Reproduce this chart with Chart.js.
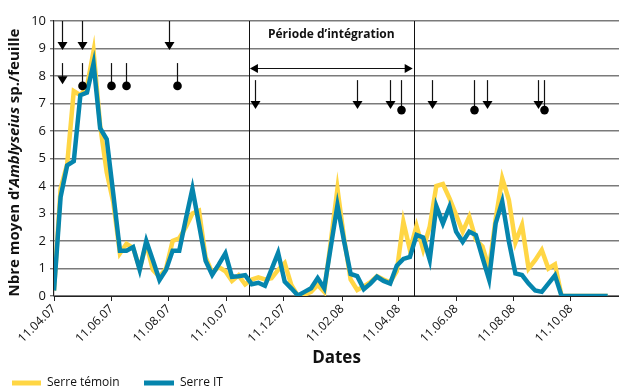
<!DOCTYPE html>
<html>
<head>
<meta charset="utf-8">
<script src="https://cdn.jsdelivr.net/npm/chart.js@4"></script>
<style>
  html, body { margin: 0; padding: 0; background: #fff; }
  #wrap { width: 619px; height: 392px; }
</style>
</head>
<body>
<div id="wrap"><canvas id="chart" width="619" height="392"></canvas></div>
<script>
// ── données (jours depuis le 11.04.07, relevés hebdomadaires) ─────────
const sampleDays = [
  0, 7, 14, 21, 28, 35, 42, 49, 56, 63, 70, 77, 84, 91, 98, 105, 112, 119, 126, 133,
  140, 147, 154, 161, 168, 175, 182, 189, 196, 203, 210, 217, 224, 231, 238, 245, 252, 259, 266, 273,
  280, 287, 294, 301, 308, 315, 322, 329, 336, 343, 350, 357, 364, 371, 378, 385, 392, 399, 406, 413,
  420, 427, 434, 441, 448, 455, 462, 469, 476, 483, 490, 497, 504, 511, 518, 525, 532, 539, 546, 553,
  560, 567, 574, 581, 588,
];
const serreTemoin = [
  0.2, 3.9, 4.8, 7.45, 7.3, 7.6, 8.9, 6.2, 4.5, 3.4, 1.55, 1.9, 1.75, 1.0, 1.9, 0.95, 0.7, 1.0, 2.0, 2.1,
  2.5, 3.0, 3.1, 1.4, 0.85, 1.05, 0.9, 0.55, 0.75, 0.42, 0.6, 0.68, 0.6, 0.65, 0.95, 1.2, 0.4, 0, 0.05, 0.15,
  0.4, 0.15, 2.0, 3.9, 2.1, 0.6, 0.22, 0.35, 0.5, 0.72, 0.6, 0.5, 0.9, 2.7, 1.67, 2.55, 1.7, 2.52, 4.0, 4.07,
  3.55, 2.95, 2.34, 2.88, 2.04, 1.8, 1.0, 2.8, 4.28, 3.5, 1.95, 2.58, 1.0, 1.3, 1.67, 1.0, 1.15, 0, 0, 0,
  0, 0, 0, 0, 0,
];
const serreIT = [
  0.2, 3.6, 4.75, 4.9, 7.3, 7.4, 8.45, 6.1, 5.7, 3.7, 1.65, 1.65, 1.78, 0.95, 2.0, 1.3, 0.58, 0.95, 1.65, 1.65,
  2.8, 3.9, 2.6, 1.28, 0.77, 1.15, 1.55, 0.7, 0.72, 0.76, 0.43, 0.48, 0.37, 0.97, 1.57, 0.52, 0.28, 0.02, 0.15, 0.28,
  0.65, 0.28, 1.8, 3.3, 2.0, 0.8, 0.72, 0.25, 0.45, 0.7, 0.55, 0.45, 1.1, 1.35, 1.42, 2.22, 2.13, 1.31, 3.27, 2.64,
  3.25, 2.34, 1.97, 2.34, 2.22, 1.4, 0.6, 2.64, 3.43, 2.0, 0.82, 0.76, 0.45, 0.2, 0.15, 0.45, 0.75, 0, 0, 0,
  0, 0, 0, 0, 0,
];
const tickDays = [0, 61, 122, 183, 244, 306, 366, 427, 488, 549];
const tickLabels = ["11.04.07", "11.06.07", "11.08.07", "11.10.07", "11.12.07", "11.02.08", "11.04.08", "11.06.08", "11.08.08", "11.10.08"];

// période d'intégration + traitements (jours)
const periodBounds = [207, 382];
const lachersHaut = [9, 30, 122];          // flèches, 1re rangée
const lachersBas = [9];                    // flèches, 2e rangée
const traitementsBas = [30, 61, 76, 131];  // points, 2e rangée
const lachersIT = [213, 322, 357, 401, 460, 514];
const traitementsIT = [368, 446, 520];

const YELLOW = "#ffd644", BLUE = "#0585ad";
const FONT = "'Open Sans', 'DejaVu Sans', sans-serif";

// ── dessins additionnels ──────────────────────────────────────────────
const overlay = {
  id: "overlay",
  beforeDatasetsDraw(chart) {
    const c = chart.ctx, x = chart.scales.x, y = chart.scales.y;
    c.save();
    c.strokeStyle = "#111"; c.lineWidth = 1;
    periodBounds.forEach((d) => {
      const X = Math.round(x.getPixelForValue(d)) + 0.5;
      c.beginPath(); c.moveTo(X, y.getPixelForValue(10)); c.lineTo(X, y.getPixelForValue(0)); c.stroke();
    });
    c.restore();
  },
  afterDatasetsDraw(chart) {
    const c = chart.ctx, x = chart.scales.x, y = chart.scales.y;
    const px = (d) => x.getPixelForValue(d), py = (v) => y.getPixelForValue(v);
    c.save();
    c.strokeStyle = "#111"; c.fillStyle = "#000"; c.lineWidth = 1.2;

    const arrow = (d, top, tip) => {
      const X = Math.round(px(d)) + 0.5, T = py(tip);
      c.beginPath(); c.moveTo(X, py(top)); c.lineTo(X, T - 7); c.stroke();
      c.beginPath(); c.moveTo(X - 5, T - 8); c.lineTo(X + 5, T - 8); c.lineTo(X, T); c.closePath(); c.fill();
    };
    const dot = (d, top, mid) => {
      const X = Math.round(px(d)) + 0.5, M = py(mid);
      c.beginPath(); c.moveTo(X, py(top)); c.lineTo(X, M); c.stroke();
      c.beginPath(); c.arc(X, M, 4.3, 0, Math.PI * 2); c.fill();
    };
    lachersHaut.forEach((d) => arrow(d, 10, 8.95));
    lachersBas.forEach((d) => arrow(d, 8.47, 7.7));
    traitementsBas.forEach((d) => dot(d, 8.47, 7.64));
    lachersIT.forEach((d) => arrow(d, 7.85, 6.8));
    traitementsIT.forEach((d) => dot(d, 7.85, 6.76));

    // flèche double de la période
    const a = px(periodBounds[0]), b = px(periodBounds[1]), Y = Math.round(py(8.3)) + 0.5;
    c.beginPath(); c.moveTo(a + 6, Y); c.lineTo(b - 6, Y); c.stroke();
    c.beginPath(); c.moveTo(a + 1, Y); c.lineTo(a + 9, Y - 4.5); c.lineTo(a + 9, Y + 4.5); c.closePath(); c.fill();
    c.beginPath(); c.moveTo(b - 1, Y); c.lineTo(b - 9, Y - 4.5); c.lineTo(b - 9, Y + 4.5); c.closePath(); c.fill();

    c.font = "bold 12px " + FONT; c.textAlign = "center"; c.textBaseline = "middle"; c.fillStyle = "#111";
    c.fillText("Période d’intégration", (a + b) / 2, py(9.5));
    c.restore();
  },
  afterDraw(chart) {
    const c = chart.ctx, area = chart.chartArea;
    c.save();
    // titre de l'axe Y (Amblyseius en italique)
    c.translate(15, (area.top + area.bottom) / 2 + 4);
    c.rotate(-Math.PI / 2);
    const parts = [["bold", "Nbre moyen d’"], ["italic bold", "Amblyseius"], ["bold", " sp./feuille"]];
    let w = 0;
    parts.forEach(([s, t]) => { c.font = s + " 15px " + FONT; w += c.measureText(t).width; });
    let cx = -w / 2;
    c.fillStyle = "#111"; c.textBaseline = "middle"; c.textAlign = "left";
    parts.forEach(([s, t]) => { c.font = s + " 15px " + FONT; c.fillText(t, cx, 0); cx += c.measureText(t).width; });
    c.restore();

    c.save();
    c.fillStyle = "#111"; c.textBaseline = "middle";
    c.font = "bold 17px " + FONT; c.textAlign = "center";
    c.fillText("Dates", (area.left + area.right) / 2, 358);
    // légende
    c.lineWidth = 5;
    [[YELLOW, "Serre témoin", 12, 41, 47], [BLUE, "Serre IT", 144, 174, 180]].forEach(([col, t, x0, x1, tx]) => {
      c.strokeStyle = col; c.beginPath(); c.moveTo(x0, 383); c.lineTo(x1, 383); c.stroke();
      c.font = "12px " + FONT; c.textAlign = "left"; c.fillText(t, tx, 383);
    });
    c.restore();
  },
};

const pts = (vals) => vals.map((v, i) => ({ x: sampleDays[i], y: v }));

new Chart(document.getElementById("chart"), {
  type: "line",
  data: {
    datasets: [
      { label: "Serre témoin", data: pts(serreTemoin), borderColor: YELLOW, borderWidth: 4.5, pointRadius: 0, tension: 0, order: 2 },
      { label: "Serre IT", data: pts(serreIT), borderColor: BLUE, borderWidth: 4.5, pointRadius: 0, tension: 0, order: 1 },
    ],
  },
  options: {
    responsive: false, animation: false, devicePixelRatio: 1,
    layout: { padding: { top: 21, right: 0, left: 0, bottom: 0 } },
    plugins: { legend: { display: false }, tooltip: { enabled: false } },
    scales: {
      x: {
        type: "linear", min: 0, max: 600,
        afterBuildTicks: (s) => { s.ticks = tickDays.map((v) => ({ value: v })); },
        afterFit: (s) => { s.height = 96; },
        grid: { drawOnChartArea: false, tickLength: 5, color: "#222" },
        border: { color: "#222", width: 1 },
        ticks: {
          autoSkip: false, minRotation: 45, maxRotation: 45, padding: 1,
          color: "#111", font: { family: FONT, size: 12 },
          callback: (v) => tickLabels[tickDays.indexOf(v)],
        },
      },
      y: {
        min: 0, max: 10,
        afterFit: (s) => { s.width = 54; },
        grid: { color: "#7a7a7a", lineWidth: 1.4, tickLength: 4 },
        border: { color: "#222", width: 1.2 },
        ticks: { stepSize: 1, padding: 4, color: "#111", font: { family: FONT, size: 13 } },
      },
    },
  },
  plugins: [overlay],
});
</script>
</body>
</html>
